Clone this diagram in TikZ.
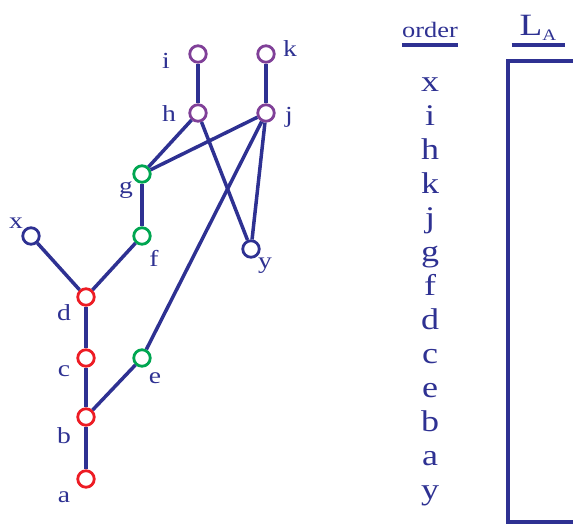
\documentclass[tikz,border=0pt]{standalone}
\usepackage{fontspec}
\setmainfont{Liberation Serif}[FakeStretch=1.2]
\usepackage{tikz}
\usetikzlibrary{calc}
\definecolor{navy}{RGB}{46,49,146}
\definecolor{vred}{RGB}{237,28,36}
\definecolor{vgreen}{RGB}{0,166,81}
\definecolor{vpurple}{RGB}{128,64,152}

\begin{document}
\begin{tikzpicture}[x=1pt,y=-1pt,
	vtx/.style={circle,draw=#1,fill=white,line width=2.8pt,minimum size=16.5pt,inner sep=0pt},
	lbl/.style={text=navy,font=\fontsize{23}{23}\selectfont,inner sep=0pt},
	ordtxt/.style={text=navy,font=\fontsize{30}{30}\selectfont,inner sep=0pt,anchor=base},
	edge/.style={navy,line width=3.5pt}]
	\useasboundingbox (0,0) rectangle (573,525);
	\node[vtx=vpurple] (i) at (198,54) {};
	\node[vtx=vpurple] (k) at (266,54) {};
	\node[vtx=vpurple] (h) at (198,113) {};
	\node[vtx=vpurple] (j) at (266,113) {};
	\node[vtx=vgreen] (g) at (142,174) {};
	\node[vtx=vgreen] (f) at (142,236) {};
	\node[vtx=navy] (x) at (31,236) {};
	\node[vtx=navy] (y) at (251,249) {};
	\node[vtx=vred] (d) at (86,297) {};
	\node[vtx=vred] (c) at (86,358) {};
	\node[vtx=vgreen] (e) at (142,358) {};
	\node[vtx=vred] (b) at (86,417) {};
	\node[vtx=vred] (a) at (86,479) {};
	\foreach \s/\t in {i/h,k/j,h/g,j/g,h/y,j/y,j/e,g/f,f/d,x/d,d/c,c/b,b/e,b/a}
		\draw[edge] (\s) -- (\t);
	\foreach \v/\dx/\dy in {i/-32/7,k/24/-5,h/-29/1,j/23/4,g/-16/16,x/-15/-13,f/12/22,y/14/17,d/-22/16,c/-22/13,e/13/20,b/-22/19,a/-22/18}
		\node[lbl] (\v-lbl) at ($(\v)+(\dx,\dy)$) {\v};
	\node[lbl,font=\fontsize{22}{22}\selectfont,anchor=base] (ordhd) at (430,37) {order};
	\draw[edge] ($(ordhd.base west)+(0,8)$) -- ($(ordhd.base east)+(0,8)$);
	\foreach \v [count=\k from 0] in {x,i,h,k,j,g,f,d,c,e,b,a,y}
		\node[ordtxt] (ord-\v) at (430,91+34*\k) {\v};
	\node[text=navy,inner sep=0pt,anchor=base] (lahd) at (538,35) {\fontsize{31}{31}\selectfont L\raisebox{-5pt}{\fontsize{16}{16}\selectfont A}};
	\draw[edge] ($(lahd.base west)+(-8,10)$) -- ($(lahd.base east)+(8,10)$);
	\draw[edge,line width=4pt] (575,61) -| (508,522) -- (575,522);
\end{tikzpicture}
\end{document}
